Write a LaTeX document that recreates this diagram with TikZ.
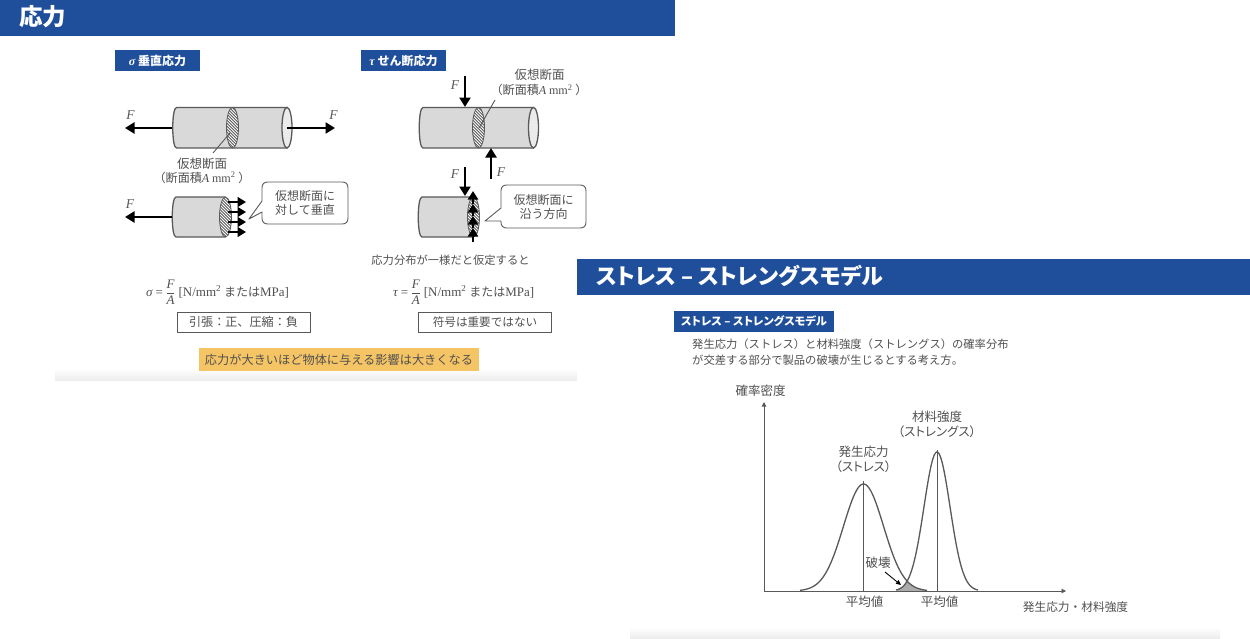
\documentclass[tikz,border=0pt]{standalone}
\usepackage{fontspec}
\setmainfont{Noto Sans CJK JP}
\newfontfamily\latinserif{Liberation Serif}
\newfontfamily\paltfont[RawFeature=+palt]{Noto Sans CJK JP}
\usetikzlibrary{arrows.meta,calc,shadings}
\definecolor{hdrblue}{HTML}{1F4E9B}
\definecolor{tagorange}{HTML}{F5C465}
\definecolor{txtgray}{HTML}{505050}
\definecolor{cylgray}{HTML}{D9D9D9}
\definecolor{edgegray}{HTML}{595959}
\newcommand{\fs}[1]{\fontsize{#1}{#1}\selectfont}
\newcommand{\lit}[1]{{\latinserif\itshape #1}}
\newcommand{\hatchdisc}[4]{% cx cy rx ry
  \begin{scope}
    \clip (#1,#2) ellipse [x radius=#3pt, y radius=#4pt];
    \fill[white] (#1,#2) ellipse [x radius=#3pt, y radius=#4pt];
    \foreach \k in {-40,-37,...,40}{
      \draw[line width=.8pt,edgegray] ($(#1,#2)+(\k,0)+(-25,-25)$) -- ($(#1,#2)+(\k,0)+(25,25)$);
    }
  \end{scope}
  \draw[line width=.8pt,edgegray] (#1,#2) ellipse [x radius=#3pt, y radius=#4pt];
}
\newcommand{\cylbody}[4]{% left right top bottom
  \draw[cylline,fill=cylgray] (#1+4,#3) -- (#2,#3) -- (#2,#4) -- (#1+4,#4)
    .. controls (#1-1,#4) and (#1-1,#3) .. (#1+4,#3) -- cycle;
}
\tikzset{
  x=1pt,y=-1pt,
  cylline/.style={line width=1.3pt,edgegray},
  force/.style={line width=2.8pt,black,-{Triangle[width=11pt,length=9.5pt]}},
  smallforce/.style={line width=1.7pt,black,-{Triangle[width=10pt,length=8.5pt]}},
  upforce/.style={line width=2.5pt,black,-{Triangle[width=10pt,length=8.5pt]}},
  thinline/.style={line width=.9pt,edgegray},
  lab/.style={text=txtgray,font=\fs{12.5},align=center,inner sep=0pt},
  labs/.style={text=txtgray,font=\fs{11.3},align=center,inner sep=0pt},
  labm/.style={text=txtgray,font=\fs{12},align=center,inner sep=0pt},
  flab/.style={text=edgegray,font=\fs{13.5},inner sep=0pt},
  tag/.style={fill=hdrblue,text=white,font=\fs{12}\bfseries,inner sep=0pt,anchor=center},
  hdr/.style={text=white,inner sep=0pt,anchor=west},
  callout/.style={draw=edgegray,line width=.9pt,fill=white,line join=round},
  plainbox/.style={draw=edgegray,line width=1pt,fill=white,text=txtgray,inner sep=0pt},
  curve/.style={line width=1.3pt,edgegray},
  eqn/.style={text=txtgray,inner sep=0pt,font=\fs{13},anchor=west},
}
\begin{document}
\begin{tikzpicture}
\useasboundingbox (0,0) rectangle (1250,638);
\fill[white] (0,0) rectangle (1250,638);
% panel shadows
\shade[top color=white,bottom color=black!7] (55,368) rectangle (577,380);
% headers
\fill[hdrblue] (0,0) rectangle (675,36);
\node[hdr,font=\fs{23.5}\bfseries] (h1) at (19,17) {応力};
\fill[white] (577,259) rectangle (1250,638);
\shade[top color=white,bottom color=black!7] (630,627) rectangle (1220,638);
\fill[hdrblue] (577,259) rectangle (1250,295);
\node[hdr,font=\fs{22}\bfseries\paltfont] (h2) at (596,276) {ストレス – ストレングスモデル};
% tags
\node[tag,minimum width=85pt,minimum height=21pt] (t1) at (157.5,60.5) {\lit{σ} 垂直応力};
\node[tag,minimum width=85pt,minimum height=21pt] (t2) at (403.5,60.5) {\lit{τ} せん断応力};
\node[tag,minimum width=160pt,minimum height=21pt,font=\fs{11.2}\bfseries\paltfont] (t3) at (754,321.5) {ストレス – ストレングスモデル};

% ---- cylinder 1
\coordinate (c1l) at (172,128); \coordinate (c1la) at (125,128);
\coordinate (c1r) at (287,128); \coordinate (c1ra) at (335,128);
\cylbody{172.5}{287}{107.5}{148}
\draw[cylline,fill=black!8] (287,127.7) ellipse [x radius=5pt, y radius=20.3pt];
\hatchdisc{232.5}{127.7}{6}{20.3}
\draw[force] (c1l) -- (c1la);
\draw[force] (c1r) -- (c1ra);
\node[flab] (f1) at (130.5,115) {\lit{F}};
\node[flab] (f2) at (333.5,115) {\lit{F}};
\node[lab] (v1) at (202,163.5) {仮想断面};
\node[lab,font=\fs{12.1}] (a1) at (202,177.5) {（断面積\lit{A} {\latinserif mm\textsuperscript{2}} ）};
\coordinate (l1a) at (213,153); \coordinate (l1b) at (230,133);
\draw[thinline] (l1a) -- (l1b);

% ---- cylinder 2
\coordinate (c2l) at (172,217); \coordinate (c2la) at (125,217);
\cylbody{172}{225}{197}{237}
\draw[force] (c2l) -- (c2la);
\node[flab] (f3) at (130,204) {\lit{F}};
\hatchdisc{225.5}{217}{6}{20}
\foreach \yy/\nm in {202/a,212/b,222/c,232/d}{
  \coordinate (s\nm) at (228,\yy); \coordinate (e\nm) at (246,\yy);
  \draw[smallforce] (s\nm) -- (e\nm);
}
\draw[callout] (268,182) -- (342,182) .. controls (346,182) and (348,184) .. (348,188) -- (348,218)
  .. controls (348,222) and (346,224) .. (342,224) -- (268,224) .. controls (264,224) and (262,222) .. (262,218)
  -- (262,212) -- (249,219) -- (262,201) -- (262,188) .. controls (262,184) and (264,182) .. (268,182) -- cycle;
\node[labm] (co1) at (305,203) {仮想断面に\\[2.5pt]対して垂直};

% ---- cylinder 3
\coordinate (c3t) at (465,76); \coordinate (c3tb) at (465,107);
\coordinate (c3b) at (491,179); \coordinate (c3bb) at (491,148);
\cylbody{419}{533}{107.5}{148}
\draw[cylline,fill=black!8] (533.5,127.7) ellipse [x radius=5pt, y radius=20.3pt];
\hatchdisc{478.5}{127.7}{6}{20.3}
\draw[force] (c3t) -- (c3tb);
\draw[force] (c3b) -- (c3bb);
\node[flab] (f4) at (455,85) {\lit{F}};
\node[flab] (f5) at (501,172) {\lit{F}};
\node[lab] (v2) at (539.5,75) {仮想断面};
\node[lab,font=\fs{12.1}] (a2) at (539,90) {（断面積\lit{A} {\latinserif mm\textsuperscript{2}} ）};
\coordinate (l2a) at (495,100); \coordinate (l2b) at (479,128);
\draw[thinline] (l2a) -- (l2b);

% ---- cylinder 4
\coordinate (c4t) at (465,167); \coordinate (c4tb) at (465,196);
\node[flab] (f6) at (455,174) {\lit{F}};
\cylbody{418}{473}{197}{237}
\hatchdisc{473.5}{217}{6}{20}
\draw[force] (c4t) -- (c4tb);
\coordinate (u0) at (473,242);
\coordinate (ua) at (473,191); \coordinate (ub) at (473,204); \coordinate (uc) at (473,216); \coordinate (ud) at (473,228);
\draw[upforce] (u0) -- (ud);
\draw[upforce] (ud) -- (uc);
\draw[upforce] (uc) -- (ub);
\draw[upforce] (ub) -- (ua);
\draw[callout] (507,185) -- (580,185) .. controls (584,185) and (586,187) .. (586,191) -- (586,222)
  .. controls (586,226) and (584,228) .. (580,228) -- (507,228) .. controls (503,228) and (501,226) .. (501,222)
  -- (501,221) -- (485,221) -- (501,208) -- (501,191) .. controls (501,187) and (503,185) .. (507,185) -- cycle;
\node[labm] (co2) at (543.5,207) {仮想断面に\\[2.5pt]沿う方向};

% ---- formulas
\node[labs] (assume) at (450.5,260.5) {応力分布が一様だと仮定すると};
\node[eqn] (eq1) at (146,292)
  {\lit{σ} {\latinserif =}\hspace{2.5pt}$\displaystyle\frac{\mbox{\lit{F}}}{\mbox{\lit{A}}}$ {\latinserif [N/mm\textsuperscript{2}} {\fs{12}または}{\latinserif MPa]}};
\node[eqn] (eq2) at (393,292)
  {\lit{τ} {\latinserif =}\hspace{2.5pt}$\displaystyle\frac{\mbox{\lit{F}}}{\mbox{\lit{A}}}$ {\latinserif [N/mm\textsuperscript{2}} {\fs{12}または}{\latinserif MPa]}};
\node[plainbox,font=\fs{12.1},minimum width=133pt,minimum height=20pt] (b1) at (243.5,322) {引張：正、圧縮：負};
\node[plainbox,font=\fs{11.6},minimum width=133pt,minimum height=20pt] (b2) at (485,322) {符号は重要ではない};
\node[fill=tagorange,text=txtgray,font=\fs{12.2},inner sep=0pt,minimum width=280pt,minimum height=23pt] (or) at (339,359.5) {応力が大きいほど物体に与える影響は大きくなる};

% ---- right text
\node[labs,anchor=west] (para1) at (692,344.5) {発生応力（ストレス）と材料強度（ストレングス）の確率分布};
\node[labs,anchor=west] (para2) at (692,360.5) {が交差する部分で製品の破壊が生じるとする考え方。};

% ---- chart
\coordinate (o) at (764,591); \coordinate (ytop) at (764,402); \coordinate (xend) at (1066,591);
\fill[gray!65] (897,591)
    -- plot[domain=897:907.2,samples=15,smooth] (\x,{591-139*exp(-((\x-937)^2)/(2*13*13))})
    -- plot[domain=907.2:926,samples=20,smooth] (\x,{591-107*exp(-((\x-863.5)^2)/(2*20*20))}) -- (926,591) -- cycle;
\draw[curve] plot[domain=800:927,samples=80,smooth] (\x,{591-107*exp(-((\x-863.5)^2)/(2*20*20))});
\draw[curve] plot[domain=896:978,samples=70,smooth] (\x,{591-139*exp(-((\x-937)^2)/(2*13*13))});
\draw[line width=.9pt,edgegray,-{Triangle[width=4.5pt,length=4.5pt]}] (o) -- (ytop);
\draw[line width=.9pt,edgegray,-{Triangle[width=4.5pt,length=4.5pt]}] (o) -- (xend);
\coordinate (m1t) at (863.5,481); \coordinate (m1b) at (863.5,591);
\coordinate (m2t) at (937,450); \coordinate (m2b) at (937,591);
\draw[thinline] (m1t) -- (m1b);
\draw[thinline] (m2t) -- (m2b);
\node[lab] (yl) at (760.5,391) {確率密度};
\node[labs,font=\fs{11.7}] (xl) at (1075.5,607) {発生応力・材料強度};
\node[lab] (ss) at (863.5,452) {発生応力};
\node[lab,font=\fs{12.5}\paltfont] (ss2) at (863.5,467) {（ストレス）};
\node[lab] (st) at (937,417) {材料強度};
\node[lab,font=\fs{12.5}\paltfont] (st2) at (937,432) {（ストレングス）};
\node[lab] (br) at (878,563) {破壊};
\node[lab] (av1) at (864.5,601.5) {平均値};
\node[lab] (av2) at (939.5,601.5) {平均値};
\coordinate (bra) at (885,572); \coordinate (brb) at (901,585);
\draw[line width=.9pt,black,-{Triangle[width=4.5pt,length=5pt]}] (bra) -- (brb);
\end{tikzpicture}
\end{document}
